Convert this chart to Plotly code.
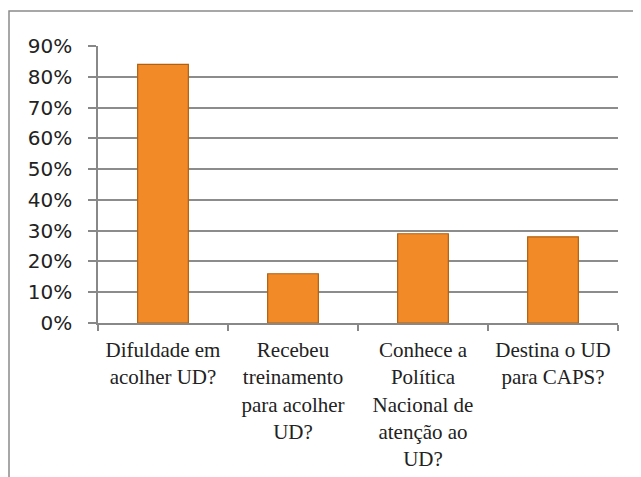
import plotly.graph_objects as go

categories = [
    "Difuldade em<br>acolher UD?",
    "Recebeu<br>treinamento<br>para acolher<br>UD?",
    "Conhece a<br>Política<br>Nacional de<br>atenção ao<br>UD?",
    "Destina o UD<br>para CAPS?",
]
values = [0.84, 0.16, 0.29, 0.28]
y_ticks = [0, 0.1, 0.2, 0.3, 0.4, 0.5, 0.6, 0.7, 0.8, 0.9]

# page has an 8px body margin; figure is sized to compensate
OFF = 8
W, H = 641 - OFF, 477 - OFF
L, T = 98 - OFF, 46 - OFF
R = W - (618 - OFF)
B = H - (323 - OFF)
pw, ph = W - L - R, H - T - B

fig = go.Figure()
fig.add_trace(go.Bar(
    x=categories, y=values,
    width=0.39,
    marker=dict(color="#F28A28", line=dict(color="#B0600F", width=1.2)),
    hoverinfo="skip",
))

fig.update_layout(
    width=W, height=H,
    margin=dict(l=L, r=R, t=T, b=B, autoexpand=False),
    paper_bgcolor="white", plot_bgcolor="white",
    showlegend=False,
    shapes=[dict(
        type="rect", xref="paper", yref="paper",
        x0=(1 - L) / pw, x1=(W + 10 - L) / pw,
        y0=-(B + 20) / ph, y1=1 + (T - 3) / ph,
        line=dict(color="#8a8a8a", width=1.5),
        fillcolor="rgba(0,0,0,0)", layer="below",
    )],
)

fig.update_xaxes(
    automargin=False,
    showline=True, linecolor="#888888", linewidth=1.5,
    ticks="outside", tickson="boundaries", ticklen=6, tickcolor="#888888", tickwidth=1.5,
    ticklabelstandoff=7,
    tickfont=dict(family="Liberation Serif", size=21, color="#222222"),
    tickangle=0,
    showgrid=False,
)
fig.update_yaxes(
    automargin=False,
    range=[0, 0.9],
    tickvals=y_ticks, tickformat=".0%",
    showline=True, linecolor="#888888", linewidth=1.5,
    ticks="outside", ticklen=8, tickcolor="#888888", tickwidth=1.5,
    ticklabelstandoff=12,
    showgrid=True, gridcolor="#8c8c8c", gridwidth=1.5,
    zeroline=False,
    tickfont=dict(family="DejaVu Sans", size=20, color="#222222"),
)

fig.write_html("out.html")
